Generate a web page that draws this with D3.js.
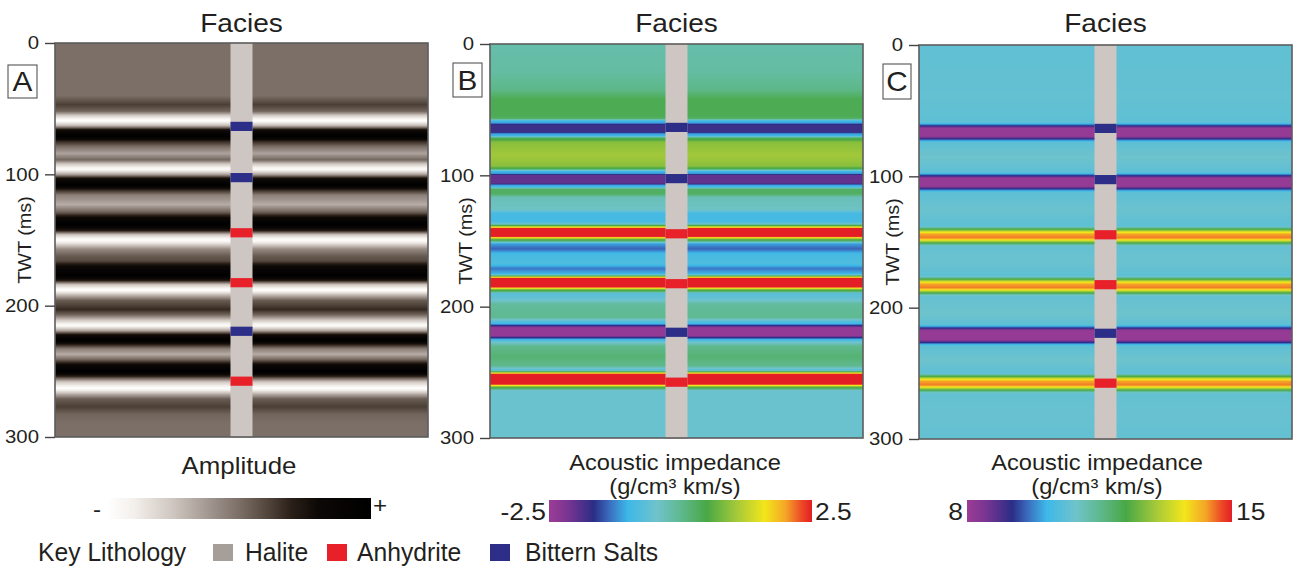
<!DOCTYPE html>
<html><head><meta charset="utf-8">
<script src="https://cdn.jsdelivr.net/npm/d3@7"></script>
<style>
body{margin:0;background:#fff;}
text{font-family:"Liberation Sans",Arial,Helvetica,sans-serif;fill:#231f20;}
</style>
</head><body>
<svg id="chart" width="1293" height="566"></svg>
<script>
// ---------------- DATA ----------------
const twtTicks = [0, 100, 200, 300];
const panelLetters = ["A", "B", "C"];
const panelTitle = "Facies";

// Panel A: seismic amplitude trace (-1 = white/negative, +1 = black/positive)
const ampTWT = [0, 40, 47, 52, 55, 59, 63, 66, 71, 75, 79, 84, 89, 92, 96, 100, 103, 108, 112, 116, 123, 129, 133, 138, 143, 146, 150, 154, 157, 162, 166, 170, 177, 181, 184, 188, 192, 196, 203, 207, 211, 215, 219, 222, 226, 230, 233, 237, 241, 245, 250, 254, 258, 263, 267, 271, 277, 283, 290, 300];
const ampVal = [0, 0, 0.25, 0.05, -0.5, -1, -0.4, 0.5, 1, 0.35, 0, -0.3, 0.05, -0.5, -0.95, -0.3, 0.5, 1, 0.35, -0.1, -0.35, 0.1, 0.6, 1, 0.4, -0.5, -1, -0.5, -0.15, 0.1, 0.2, 0.6, 1, 0.4, -0.5, -1, -0.4, 0.1, 0.35, 0.05, -0.5, -0.95, -0.3, 0.5, 1, 0.35, -0.1, -0.35, 0.05, 0.6, 1, 0.35, -0.5, -1, -0.4, 0.1, 0.25, 0.05, 0, 0];

// Panel B: relative acoustic impedance (-2.5 .. 2.5)
const relTWT = [0, 20, 35, 42, 55, 57, 58.5, 60, 61.5, 67, 68.5, 70, 71.5, 75, 85, 93, 95, 97, 98.5, 100, 106, 107.5, 109, 110.5, 114, 117, 126, 129, 135, 137, 138.5, 139.5, 140.5, 146.5, 147.5, 148.5, 150, 152, 156, 160, 167, 171, 175, 176.5, 177.5, 178.5, 185, 186, 187, 188.5, 190, 195, 198, 208, 211, 213, 214.5, 216, 222, 223.5, 225, 226.5, 230, 238, 245, 248, 249.5, 250.5, 251.5, 259, 260, 261, 262.5, 264, 300];
const relVal = [-0.2, -0.15, 0.05, 0.4, 0.4, 0.2, -1.0, -1.1, -1.75, -1.75, -1.1, -1.0, 0.3, 0.9, 1.05, 0.9, 0.4, -1.0, -1.1, -2.0, -2.0, -1.1, -0.9, 0.3, 0.3, -0.3, -0.4, -0.9, -0.9, -0.5, 0.8, 1.6, 2.5, 2.5, 1.6, 0.8, 0.2, -1.1, -1.4, -0.9, -0.8, -1.3, -1.0, 0.2, 1.6, 2.5, 2.5, 1.6, 0.8, 0.2, -0.7, -0.5, -0.1, 0, -0.7, -1.0, -1.7, -2.4, -2.4, -1.7, -1.0, -0.6, 0.0, 0.2, 0.0, -0.7, 0.3, 1.6, 2.5, 2.5, 1.6, 0.8, 0.2, -0.5, -0.5];

// Panel C: absolute acoustic impedance (8 .. 15)
const absTWT = [0, 40, 59, 60.5, 62, 63.5, 69.5, 71, 72.5, 74, 85, 97, 98.5, 100, 101.5, 107.5, 109, 110.5, 112, 125, 138, 140, 142, 144, 147, 149, 151, 153, 165, 176, 178, 180, 182, 185, 187, 189, 191, 205, 213, 214.5, 216, 217.5, 224.5, 226, 227.5, 229, 240, 250, 252, 254, 256, 259, 261, 263, 265, 280, 300];
const absVal = [10.65, 10.7, 10.6, 9.8, 8.9, 8.1, 8.1, 8.9, 9.8, 10.6, 10.85, 10.6, 9.8, 8.9, 8.1, 8.1, 8.9, 9.8, 10.6, 10.8, 10.6, 12.0, 13.4, 14.3, 14.5, 13.4, 12.0, 10.7, 10.8, 10.6, 12.0, 13.4, 14.3, 14.5, 13.4, 12.0, 10.7, 10.85, 10.6, 9.8, 8.9, 8.1, 8.1, 8.9, 9.8, 10.6, 10.85, 10.6, 12.0, 13.4, 14.3, 14.5, 13.4, 12.0, 10.7, 10.75, 10.7];

// Well lithology column
const wellTop = [60, 99, 141, 179, 216, 254];
const wellBase = [67, 106, 148, 186, 223, 261];
const wellLith = ["Bittern Salts", "Bittern Salts", "Anhydrite", "Anhydrite", "Bittern Salts", "Anhydrite"];
const lithNames = ["Halite", "Anhydrite", "Bittern Salts"];
const lithColors = ["#a59e99", "#e8202a", "#2c2e88"];
const wellHaliteColor = "#cdc6c2";

// Colour maps
const ampStops = [0, 0.1, 0.25, 0.4, 0.5, 0.6, 0.7, 0.8, 1];
const ampColors = ["#ffffff", "#f4f0ec", "#cfc6c0", "#9d928b", "#7b6f67", "#55493f", "#2a1f18", "#0c0806", "#000000"];
const aiStops = [0, 0.07, 0.17, 0.23, 0.3, 0.41, 0.5, 0.6, 0.71, 0.82, 0.9, 0.96, 1];
const aiColors = ["#9c3c96", "#7a3592", "#2b2d86", "#3a6dbf", "#3db8e8", "#6fc3cb", "#5fb98f", "#48a845", "#a2c83a", "#f2e61b", "#f5a527", "#ec4a26", "#e31e24"];

const colorbarA = ["-", "+"];
const colorbarB = ["-2.5", "2.5"];
const colorbarC = ["8", "15"];

// ---------------- DRAW ----------------
const svg = d3.select("#chart");
const SX = 1.1; // horizontal text stretch

function txt(g, x, y, s, size, anchor, sx) {
  const t = g.append("text")
    .attr("transform", `translate(${x},${y}) scale(${sx || SX},1)`)
    .attr("text-anchor", anchor || "middle")
    .style("font-size", size + "px")
    .text(s);
  return t;
}

const panels = [
  {left: 55, right: 428, top: 43, bottom: 437, twt: ampTWT, vals: ampVal, vmin: -1, vmax: 1, stops: ampStops, colors: ampColors,
   box: [8, 65, 29, 33], ylab: 25},
  {left: 490, right: 863, top: 44, bottom: 438, twt: relTWT, vals: relVal, vmin: -2.5, vmax: 2.5, stops: aiStops, colors: aiColors,
   box: [453, 63, 29, 34], ylab: 466},
  {left: 919, right: 1292, top: 45, bottom: 439, twt: absTWT, vals: absVal, vmin: 8, vmax: 15, stops: aiStops, colors: aiColors,
   box: [883, 64, 28, 35], ylab: 893}
];

panels.forEach((p, i) => {
  const g = svg.append("g");
  const y = d3.scaleLinear().domain([0, 300]).range([p.top, p.bottom]);
  const x = d3.scaleLinear().domain([0, 100]).range([p.left, p.right]);
  const trace = d3.scaleLinear().domain(p.twt).range(p.vals).clamp(true);
  const cmap = d3.scaleLinear()
    .domain(p.stops.map(s => p.vmin + s * (p.vmax - p.vmin)))
    .range(p.colors).clamp(true);

  // seismic / impedance section: rows of constant TWT
  const rows = d3.range(Math.round(p.top), Math.round(p.bottom));
  g.append("g").attr("shape-rendering", "crispEdges")
    .selectAll("rect").data(rows).join("rect")
    .attr("x", p.left).attr("y", d => d)
    .attr("width", p.right - p.left).attr("height", 1.05)
    .attr("fill", d => cmap(trace(y.invert(d + 0.5))));

  // well column
  const wx0 = x(47.05), wx1 = x(52.95);
  g.append("rect").attr("x", wx0).attr("y", y(0)).attr("width", wx1 - wx0).attr("height", y(300) - y(0) + 1)
    .attr("fill", wellHaliteColor);
  g.append("g").selectAll("rect").data(wellTop).join("rect")
    .attr("x", wx0).attr("width", wx1 - wx0)
    .attr("y", d => y(d)).attr("height", (d, k) => y(wellBase[k]) - y(d))
    .attr("fill", (d, k) => lithColors[lithNames.indexOf(wellLith[k])]);

  // frame
  g.append("rect").attr("x", p.left).attr("y", p.top).attr("width", p.right - p.left).attr("height", p.bottom - p.top)
    .attr("fill", "none").attr("stroke", "#5d5d5d").attr("stroke-width", 1.6);

  // axis
  const ax = g.append("g").attr("transform", `translate(${p.left},0)`)
    .call(d3.axisLeft(y).tickValues(twtTicks).tickSize(10).tickPadding(6));
  ax.select(".domain").remove();
  ax.selectAll(".tick line").attr("stroke", "#444").attr("stroke-width", 1.4);
  ax.selectAll(".tick text").style("font-size", "18.5px").attr("fill", "#231f20")
    .attr("font-family", "Liberation Sans, Arial, sans-serif")
    .each(function() {
      const t = d3.select(this); const xx = +t.attr("x");
      t.attr("x", 0).attr("transform", `translate(${xx},0) scale(${SX},1)`);
    });

  // title
  txt(g, (wx0 + wx1) / 2, 32, panelTitle, 25.5);
  // panel letter box
  const [bx, by, bw, bh] = p.box;
  g.append("rect").attr("x", bx).attr("y", by).attr("width", bw).attr("height", bh)
    .attr("fill", "#fff").attr("stroke", "#555").attr("stroke-width", 1.1);
  txt(g, bx + bw / 2, by + bh / 2 + 9.5, panelLetters[i], 27);
  // y label
  g.append("text").attr("transform", `translate(${p.ylab},${(p.top + p.bottom) / 2}) rotate(-90) scale(${SX},1)`)
    .attr("text-anchor", "middle").attr("dy", "0.35em").style("font-size", "18px").text("TWT (ms)");
});

// ---- colour bars ----
const defs = svg.append("defs");
function gradient(id, stops, colors) {
  const lg = defs.append("linearGradient").attr("id", id).attr("x1", "0%").attr("x2", "100%");
  lg.selectAll("stop").data(stops).join("stop")
    .attr("offset", d => (d * 100) + "%").attr("stop-color", (d, k) => colors[k]);
}
gradient("gAmp", ampStops, ampColors);
gradient("gAI", aiStops, aiColors);

const cb = svg.append("g");
// A
txt(cb, 239, 474, "Amplitude", 23.5);
cb.append("rect").attr("x", 107).attr("y", 498).attr("width", 264).attr("height", 21).attr("fill", "url(#gAmp)");
txt(cb, 97, 517, colorbarA[0], 22);
txt(cb, 380, 513, colorbarA[1], 22);
// B
txt(cb, 675, 470, "Acoustic impedance", 21.5);
txt(cb, 675, 494, "(g/cm³ km/s)", 21.5);
cb.append("rect").attr("x", 549).attr("y", 500).attr("width", 263).attr("height", 22).attr("fill", "url(#gAI)");
txt(cb, 546, 520, colorbarB[0], 24, "end");
txt(cb, 815, 520, colorbarB[1], 24, "start");
// C
txt(cb, 1097, 470, "Acoustic impedance", 21.5);
txt(cb, 1097, 494, "(g/cm³ km/s)", 21.5);
cb.append("rect").attr("x", 967).attr("y", 500).attr("width", 265).attr("height", 22).attr("fill", "url(#gAI)");
txt(cb, 963, 520, colorbarC[0], 24, "end");
txt(cb, 1236, 520, colorbarC[1], 24, "start");

// ---- legend ----
const lg = svg.append("g");
txt(lg, 38, 561, "Key Lithology", 26, "start", 0.95);
const legX = [213, 327, 490];
const legTX = [245, 357, 525];
lithNames.forEach((n, k) => {
  lg.append("rect").attr("x", legX[k]).attr("y", 544).attr("width", 20).attr("height", 17).attr("fill", lithColors[k]);
  txt(lg, legTX[k], 561, n, 26, "start", 0.95);
});
</script>
</body></html>
